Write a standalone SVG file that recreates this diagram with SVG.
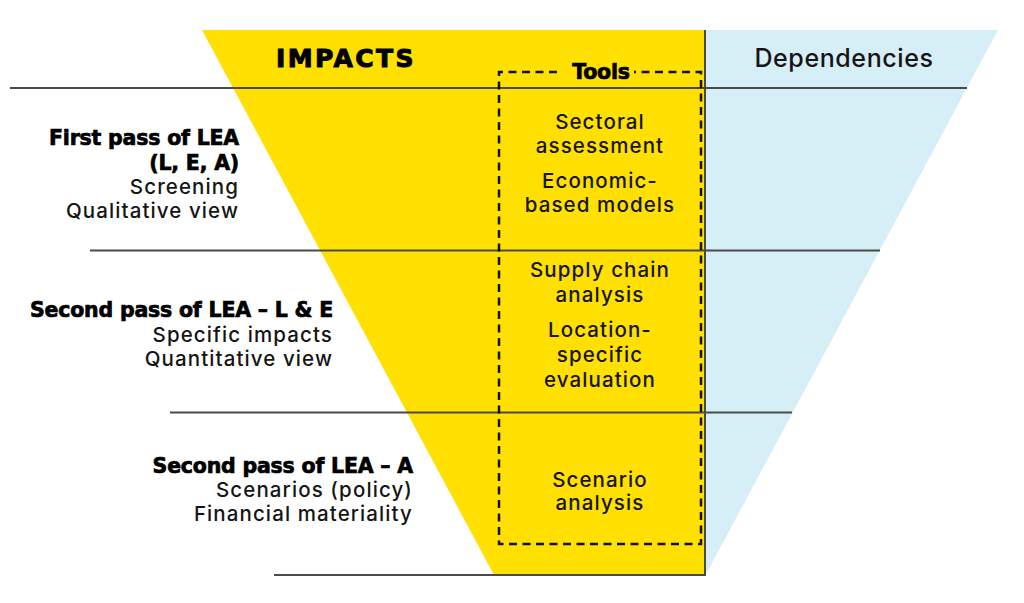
<svg xmlns="http://www.w3.org/2000/svg" width="1024" height="603" viewBox="0 0 1024 603">
<style>
.rule{stroke:#4a4a4a;stroke-width:2;fill:none}
.dash{stroke:#111;stroke-width:2.5;fill:none;stroke-dasharray:8 5.5}
.t{font-family:Inter,"Liberation Sans",sans-serif;font-size:20.5px;font-weight:500;fill:#151515;letter-spacing:1.1px}
.b{font-family:"DejaVu Sans","Liberation Sans",sans-serif;font-size:20.5px;font-weight:bold;fill:#000;stroke:#000;stroke-width:0.7px;letter-spacing:-0.2px}
.c{text-anchor:middle}
.r{text-anchor:end}
</style>
<rect width="1024" height="603" fill="#fff"/>
<g id="shapes">
<polygon points="202,30 705,30 705,575 494,575" fill="#FFE000"/>
<polygon points="705,30 998,30 705,576" fill="#D6EEF6"/>
</g>
<g id="connectors">
<line class="rule" x1="10" y1="88" x2="967" y2="88"/>
<line class="rule" x1="90" y1="250.5" x2="880" y2="250.5"/>
<line class="rule" x1="170" y1="412.5" x2="792" y2="412.5"/>
<line class="rule" x1="274" y1="575" x2="705" y2="575"/>
<line class="rule" x1="705" y1="30" x2="705" y2="576"/>
</g>
<g id="headers">
<text class="b c" x="346" y="67" style="font-size:25px;letter-spacing:2.4px;stroke-width:1px">IMPACTS</text>
<text class="t c" x="844" y="67" style="font-size:25px;letter-spacing:0.6px">Dependencies</text>
</g>
<g id="tools">
<path class="dash" d="M557,72 H499 V544 H701 V72 H634"/>
<text class="b c" x="601" y="79">Tools</text>
<text class="t c" x="600" y="129">Sectoral</text>
<text class="t c" x="600" y="153">assessment</text>
<text class="t c" x="600" y="188">Economic-</text>
<text class="t c" x="600" y="212">based models</text>
<text class="t c" x="600" y="277">Supply chain</text>
<text class="t c" x="600" y="302">analysis</text>
<text class="t c" x="600" y="337">Location-</text>
<text class="t c" x="600" y="362">specific</text>
<text class="t c" x="600" y="387">evaluation</text>
<text class="t c" x="600" y="487">Scenario</text>
<text class="t c" x="600" y="510">analysis</text>
</g>
<g id="stage1">
<text class="b r" x="239" y="145">First pass of LEA</text>
<text class="b r" x="239" y="170">(L, E, A)</text>
<text class="t r" x="239" y="194">Screening</text>
<text class="t r" x="239" y="218">Qualitative view</text>
</g>
<g id="stage2">
<text class="b r" x="333" y="317">Second pass of LEA – L &amp; E</text>
<text class="t r" x="333" y="342">Specific impacts</text>
<text class="t r" x="333" y="366">Quantitative view</text>
</g>
<g id="stage3">
<text class="b r" x="413" y="473">Second pass of LEA – A</text>
<text class="t r" x="413" y="497">Scenarios (policy)</text>
<text class="t r" x="413" y="521">Financial materiality</text>
</g>
</svg>
